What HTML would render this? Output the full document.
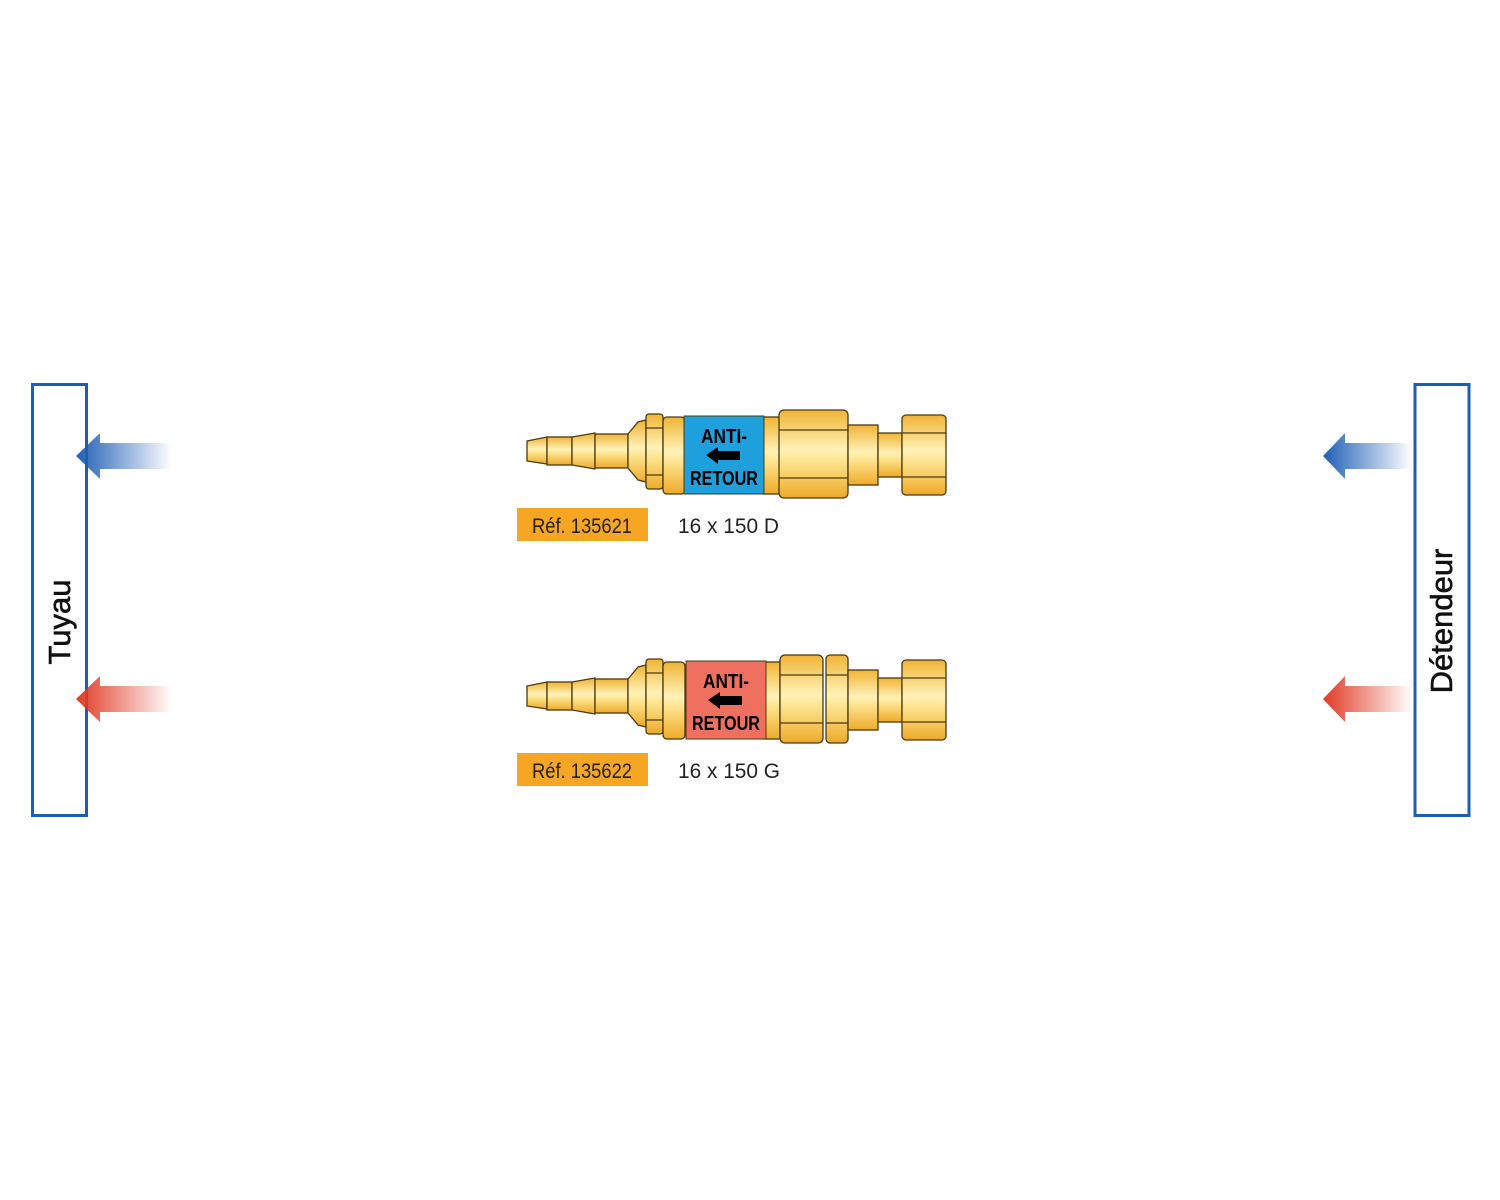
<!DOCTYPE html>
<html><head><meta charset="utf-8"><style>
html,body{margin:0;padding:0;background:#fff;}
svg{display:block;}
</style></head><body>
<svg width="1500" height="1200" viewBox="0 0 1500 1200" xmlns="http://www.w3.org/2000/svg">
<defs>
<linearGradient id="gold" x1="0" y1="0" x2="0" y2="1">
<stop offset="0" stop-color="#f0b436"/><stop offset="0.45" stop-color="#fff2b8"/><stop offset="0.6" stop-color="#fde28a"/><stop offset="1" stop-color="#eeaa2a"/>
</linearGradient>
<linearGradient id="blueL" x1="0" y1="0" x2="1" y2="0">
<stop offset="0" stop-color="#1f5fb6"/><stop offset="1" stop-color="#1f5fb6" stop-opacity="0"/>
</linearGradient>
<linearGradient id="redL" x1="0" y1="0" x2="1" y2="0">
<stop offset="0" stop-color="#e03a25"/><stop offset="1" stop-color="#e03a25" stop-opacity="0"/>
</linearGradient>
<g id="conn" stroke="#4a3a10" stroke-width="1.3" fill="url(#gold)">
<path d="M527,441 L547,437 L547,464 L527,461 Z"/>
<rect x="547" y="437" width="25" height="28"/>
<path d="M572,437 L595,433 L595,469 L572,465 Z"/>
<rect x="595" y="434" width="33" height="34"/>
<path d="M628,434 L638,422 L646,420 L646,482 L638,480 L628,468 Z"/>
<rect x="646" y="414" width="17" height="75" rx="3"/>
<line x1="646" y1="428" x2="663" y2="428"/><line x1="646" y1="475" x2="663" y2="475"/>
<rect x="663" y="417" width="22" height="77" rx="4"/>
<rect x="763" y="417" width="17" height="77"/>
</g>
<g id="tail1" stroke="#4a3a10" stroke-width="1.3" fill="url(#gold)">
<rect x="779" y="410" width="69" height="88" rx="5"/>
<line x1="779" y1="430" x2="848" y2="430"/><line x1="779" y1="478" x2="848" y2="478"/>
<rect x="848" y="425" width="30" height="60"/>
<rect x="878" y="433" width="24" height="44"/>
<rect x="902" y="415" width="44" height="80" rx="4"/>
<line x1="902" y1="433" x2="946" y2="433"/><line x1="902" y1="477" x2="946" y2="477"/>
</g>
<g id="tail2" stroke="#4a3a10" stroke-width="1.3" fill="url(#gold)">
<rect x="780" y="410" width="43" height="88" rx="5"/>
<line x1="780" y1="430" x2="823" y2="430"/><line x1="780" y1="478" x2="823" y2="478"/>
<rect x="826" y="410" width="22" height="88" rx="4"/>
<line x1="826" y1="430" x2="848" y2="430"/><line x1="826" y1="478" x2="848" y2="478"/>
<rect x="848" y="425" width="30" height="60"/>
<rect x="878" y="433" width="24" height="44"/>
<rect x="902" y="415" width="44" height="80" rx="4"/>
<line x1="902" y1="433" x2="946" y2="433"/><line x1="902" y1="477" x2="946" y2="477"/>
</g>
</defs>

<rect x="32.5" y="384.5" width="54" height="431" fill="none" stroke="#1a5fb4" stroke-width="3"/>
<rect x="1415" y="384.5" width="54" height="431" fill="none" stroke="#1a5fb4" stroke-width="3"/>
<text transform="translate(70,622) rotate(-90)" text-anchor="middle" font-family="Liberation Sans, sans-serif" font-size="31" fill="#111" stroke="#111" stroke-width="0.6">Tuyau</text>
<text transform="translate(1452,621) rotate(-90)" text-anchor="middle" font-family="Liberation Sans, sans-serif" font-size="31" fill="#111" stroke="#111" stroke-width="0.6">Détendeur</text>

<path d="M76,456 L100,433 L100,443 L172,443 L172,469 L100,469 L100,479 Z" fill="url(#blueL)"/>
<path d="M76,699 L100,676 L100,686 L172,686 L172,712 L100,712 L100,722 Z" fill="url(#redL)"/>
<path d="M1323,456 L1345,433 L1345,443 L1412,443 L1412,469 L1345,469 L1345,479 Z" fill="url(#blueL)"/>
<path d="M1323,699 L1345,676 L1345,686 L1412,686 L1412,712 L1345,712 L1345,722 Z" fill="url(#redL)"/>

<use href="#conn"/>
<use href="#tail1"/>
<rect x="684" y="416" width="80" height="78" fill="#1ea0dc" stroke="#4a3a10" stroke-width="1"/>
<text x="724" y="443" text-anchor="middle" font-family="Liberation Sans, sans-serif" font-weight="bold" font-size="20" fill="#000" textLength="46" lengthAdjust="spacingAndGlyphs">ANTI-</text>
<path d="M706,455 L718,447 L718,451 L740,451 L740,460 L718,460 L718,464 Z" fill="#000"/>
<text x="724" y="485" text-anchor="middle" font-family="Liberation Sans, sans-serif" font-weight="bold" font-size="20" fill="#000" textLength="68" lengthAdjust="spacingAndGlyphs">RETOUR</text>

<rect x="517" y="508" width="131" height="33" fill="#f6a623"/>
<text x="582" y="533" text-anchor="middle" font-family="Liberation Sans, sans-serif" font-size="21" fill="#222" textLength="100" lengthAdjust="spacingAndGlyphs">Réf. 135621</text>
<text x="678" y="533" font-family="Liberation Sans, sans-serif" font-size="21" fill="#222" textLength="101" lengthAdjust="spacingAndGlyphs">16 x 150 D</text>

<g transform="translate(0,245)">
<use href="#conn"/>
<use href="#tail2"/>
<rect x="686" y="416" width="80" height="78" fill="#f07060" stroke="#4a3a10" stroke-width="1"/>
<text x="726" y="443" text-anchor="middle" font-family="Liberation Sans, sans-serif" font-weight="bold" font-size="20" fill="#000" textLength="46" lengthAdjust="spacingAndGlyphs">ANTI-</text>
<path d="M708,455 L720,447 L720,451 L742,451 L742,460 L720,460 L720,464 Z" fill="#000"/>
<text x="726" y="485" text-anchor="middle" font-family="Liberation Sans, sans-serif" font-weight="bold" font-size="20" fill="#000" textLength="68" lengthAdjust="spacingAndGlyphs">RETOUR</text>
<rect x="517" y="508" width="131" height="33" fill="#f6a623"/>
<text x="582" y="533" text-anchor="middle" font-family="Liberation Sans, sans-serif" font-size="21" fill="#222" textLength="100" lengthAdjust="spacingAndGlyphs">Réf. 135622</text>
<text x="678" y="533" font-family="Liberation Sans, sans-serif" font-size="21" fill="#222" textLength="102" lengthAdjust="spacingAndGlyphs">16 x 150 G</text>
</g>
</svg>
</body></html>
